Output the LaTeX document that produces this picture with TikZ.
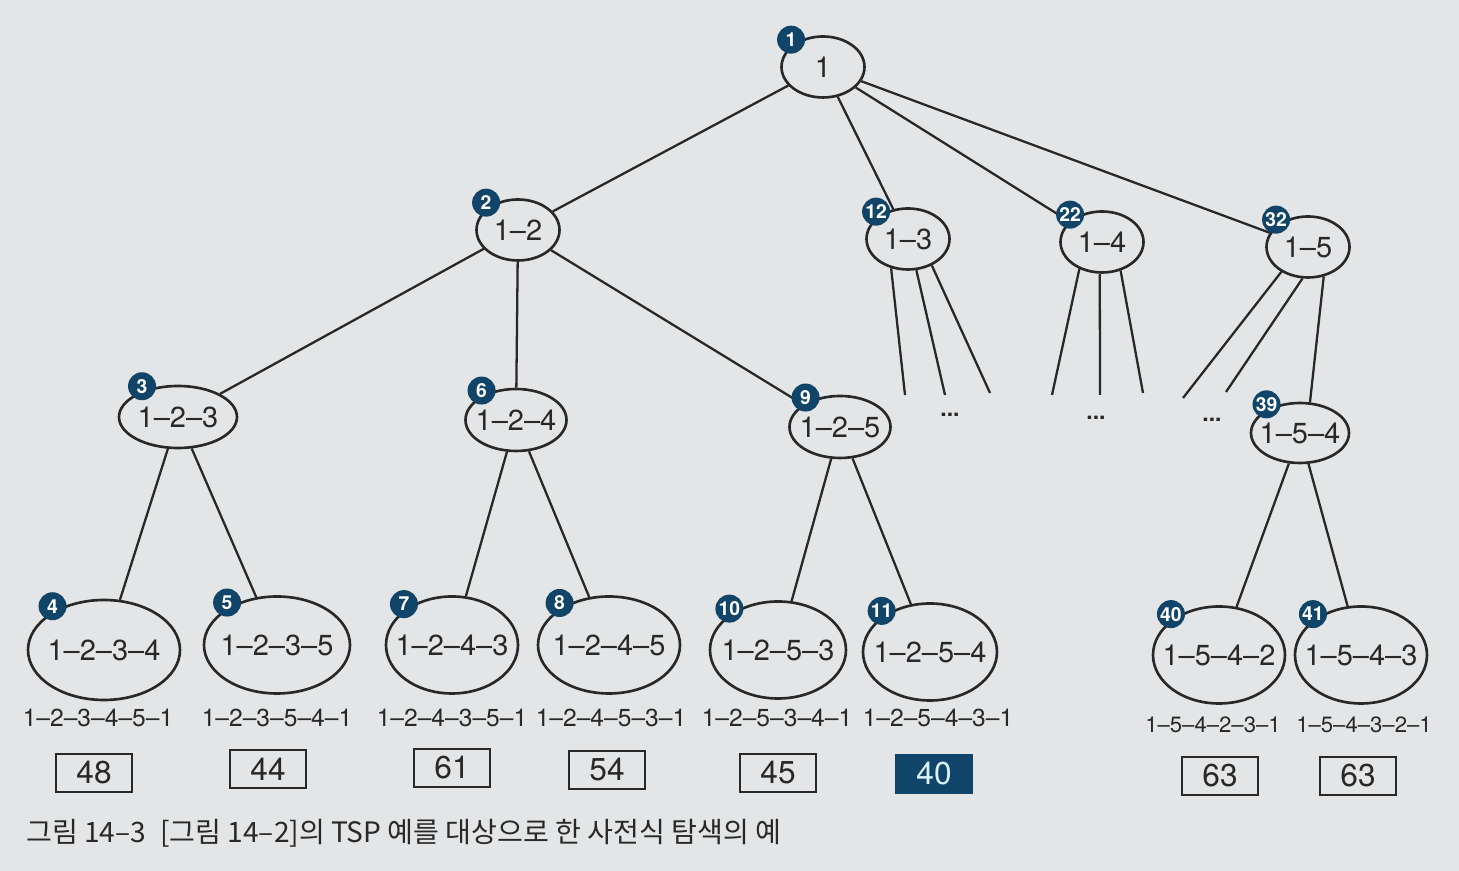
\documentclass[tikz,border=0pt]{standalone}
\usepackage{fontspec}
\setmainfont{TeX Gyre Heros}
\newfontfamily\krfont{Noto Sans CJK KR}
\usetikzlibrary{shapes.geometric}

\definecolor{badgeblue}{RGB}{16,68,104}
\definecolor{pagegray}{RGB}{227,229,230}
\definecolor{inkgray}{RGB}{40,40,40}

\tikzset{
  state/.style={ellipse, draw=inkgray, line width=1.5pt, inner xsep=-0.8cm, inner ysep=0pt,
    text=inkgray, font=\fontsize{16.5}{16.5}\selectfont},
  lvone/.style={state, minimum width=1.66cm, minimum height=1.22cm},
  lvtwo/.style={state, minimum width=2.02cm, minimum height=1.24cm},
  lvthree/.style={state, minimum width=2.76cm, minimum height=1.94cm},
  badge/.style={circle, fill=badgeblue, text=white, inner sep=0pt, minimum size=0.56cm,
    font=\fontsize{11}{11}\selectfont\bfseries, xshift=-2pt, yshift=2pt},
  tour/.style={text=inkgray, font=\fontsize{14}{14}\selectfont},
  shorttour/.style={tour, font=\fontsize{12.6}{12.6}\selectfont},
  cost/.style={draw=inkgray, line width=0.9pt, minimum width=1.52cm, minimum height=0.76cm,
    inner sep=0pt, text=inkgray, font=\fontsize{18}{18}\selectfont},
  best/.style={cost, draw=badgeblue, fill=badgeblue, text=white!85!cyan},
  link/.style={draw=inkgray, line width=1.3pt},
  more/.style={text=inkgray, font=\fontsize{13}{13}\selectfont\bfseries},
}

\begin{document}
\begin{tikzpicture}
    \fill[pagegray] (0,0) rectangle (29.18,17.42);
    \useasboundingbox (0,0) rectangle (29.18,17.42);

    % level 0 and 1
    \node[lvone] (n1) at (16.46, 16.08) {1};
    \node[lvone] (n2) at (10.36, 12.82) {1--2};
    \node[lvone] (n12) at (18.16, 12.64) {1--3};
    \node[lvone] (n22) at (22.04, 12.58) {1--4};
    \node[lvone] (n32) at (26.16, 12.48) {1--5};

    % level 2
    \node[lvtwo, minimum width=2.36cm] (n3) at (3.56, 9.08) {1--2--3};
    \node[lvtwo] (n6) at (10.32, 9.02) {1--2--4};
    \node[lvtwo] (n9) at (16.80, 8.88) {1--2--5};
    \node[lvtwo, minimum width=1.96cm, minimum height=1.2cm] (n39) at (26.00, 8.76) {1--5--4};

    % leaves
    \node[lvthree, minimum width=3.04cm, minimum height=2.0cm] (n4) at (2.08, 4.42) {1--2--3--4};
    \node[lvthree, minimum width=2.92cm] (n5) at (5.54, 4.52) {1--2--3--5};
    \node[lvthree, minimum width=2.64cm] (n7) at (9.04, 4.52) {1--2--4--3};
    \node[lvthree, minimum width=2.84cm] (n8) at (12.18, 4.52) {1--2--4--5};
    \node[lvthree, minimum width=2.72cm] (n10) at (15.56, 4.42) {1--2--5--3};
    \node[lvthree, minimum width=2.68cm] (n11) at (18.60, 4.38) {1--2--5--4};
    \node[lvthree, minimum width=2.64cm] (n40) at (24.38, 4.32) {1--5--4--2};
    \node[lvthree, minimum width=2.64cm] (n41) at (27.22, 4.32) {1--5--4--3};

    \draw[link] (n1) -- (n2);
    \draw[link] (n1) -- (n12);
    \draw[link] (n1) -- (n22);
    \draw[link] (n1) -- (n32);
    \draw[link] (n2) -- (n3);
    \draw[link] (n2) -- (n6);
    \draw[link] (n2) -- (n9);
    \draw[link] (n3) -- (n4);
    \draw[link] (n3) -- (n5);
    \draw[link] (n6) -- (n7);
    \draw[link] (n6) -- (n8);
    \draw[link] (n9) -- (n10);
    \draw[link] (n9) -- (n11);
    \draw[link] (n32.298) -- (n39.72);
    \draw[link] (n39) -- (n40);
    \draw[link] (n39) -- (n41);

    % branches that are not expanded
    \coordinate (c13a) at (18.10, 9.52);
    \coordinate (c13b) at (18.90, 9.52);
    \coordinate (c13c) at (19.80, 9.56);
    \coordinate (c14a) at (21.04, 9.52);
    \coordinate (c14b) at (22.00, 9.52);
    \coordinate (c14c) at (22.86, 9.56);
    \coordinate (c15a) at (23.66, 9.46);
    \coordinate (c15b) at (24.52, 9.58);
    \draw[link] (n12.240) -- (c13a);
    \draw[link] (n12.285) -- (c13b);
    \draw[link] (n12.312) -- (c13c);
    \draw[link] (n22.230) -- (c14a);
    \draw[link] (n22.266) -- (c14b);
    \draw[link] (n22.303) -- (c14c);
    \draw[link] (n32.223) -- (c15a);
    \draw[link] (n32.260) -- (c15b);
    \node[more] (m13) at (19.00, 9.12) {...};
    \node[more] (m14) at (21.92, 9.06) {...};
    \node[more] (m15) at (24.24, 9.02) {...};

    % visiting order
    \foreach \n in {1,2,12,22,32,3,6,9,39,4,5,7,8,10,11,40,41}
        \node[badge] (b\n) at (n\n.140) {\n};

    % complete tours and their lengths
    \node[tour] (t4) at (1.96, 3.06) {1--2--3--4--5--1};
    \node[tour] (t5) at (5.54, 3.06) {1--2--3--5--4--1};
    \node[tour] (t7) at (9.04, 3.06) {1--2--4--3--5--1};
    \node[tour] (t8) at (12.22, 3.06) {1--2--4--5--3--1};
    \node[tour] (t10) at (15.54, 3.06) {1--2--5--3--4--1};
    \node[tour] (t11) at (18.76, 3.06) {1--2--5--4--3--1};
    \node[shorttour] (t40) at (24.26, 2.92) {1--5--4--2--3--1};
    \node[shorttour] (t41) at (27.28, 2.92) {1--5--4--3--2--1};

    \node[cost] (k4) at (1.88, 1.96) {48};
    \node[cost] (k5) at (5.36, 2.04) {44};
    \node[cost] (k7) at (9.04, 2.06) {61};
    \node[cost] (k8) at (12.14, 2.02) {54};
    \node[cost] (k10) at (15.56, 1.96) {45};
    \node[best] (k11) at (18.68, 1.94) {40};
    \node[cost] (k40) at (24.40, 1.90) {63};
    \node[cost] (k41) at (27.16, 1.90) {63};

    \node[anchor=west, text=inkgray, font=\krfont\fontsize{16}{16}\selectfont] (cap) at (0.40, 0.76)
        {그림 14–3\enspace[그림 14–2]의 TSP 예를 대상으로 한 사전식 탐색의 예};
\end{tikzpicture}
\end{document}
